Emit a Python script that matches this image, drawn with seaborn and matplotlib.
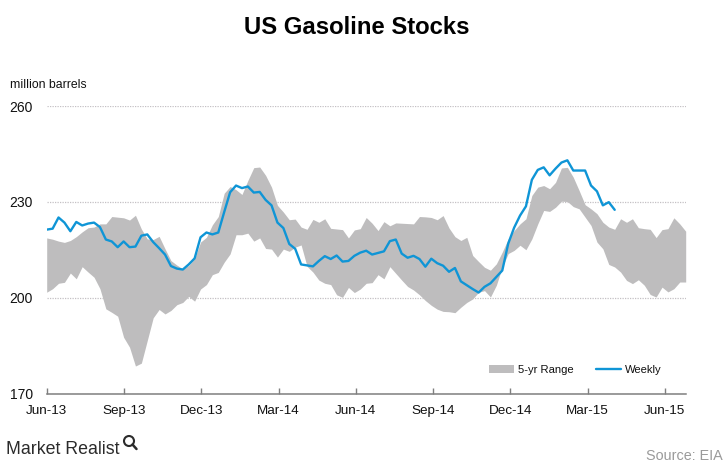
import matplotlib
matplotlib.use("Agg")
import matplotlib.pyplot as plt
from matplotlib.lines import Line2D
from matplotlib.patches import Patch, Circle
import numpy as np
import pandas as pd
import seaborn as sns

tick_labels = ["Jun-13", "Sep-13", "Dec-13", "Mar-14", "Jun-14", "Sep-14", "Dec-14", "Mar-15", "Jun-15"]
y_ticks = [170, 200, 230, 260]

weekly = [221.3, 221.6, 225.1, 223.5, 220.8, 223.7, 222.6, 223.2, 223.5, 222.1,
          218.2, 217.6, 215.8, 217.6, 215.8, 216.0, 219.4, 219.8, 217.4, 215.5,
          213.5, 209.9, 209.1, 208.8, 210.4, 212.3, 218.9, 220.4, 219.8, 220.4,
          226.8, 233.0, 235.1, 234.3, 234.8, 232.9, 233.1, 230.6, 228.9, 223.5,
          221.8, 216.8, 215.3, 210.4, 210.1, 209.8, 211.5, 213.0, 212.1, 213.2,
          211.3, 211.5, 213.1, 214.1, 214.7, 213.5, 214.0, 214.5, 217.7, 218.2,
          213.8, 212.5, 213.1, 212.1, 209.7, 212.2, 210.8, 210.0, 208.1, 209.3,
          205.1, 203.9, 202.7, 201.6, 203.4, 204.5, 206.5, 208.5, 216.9, 221.9,
          225.7, 228.6, 236.9, 240.0, 240.8, 238.3, 240.4, 242.3, 243.0, 239.8,
          239.8, 239.8, 235.1, 233.3, 228.9, 229.9, 227.5]

range_high = [218.7, 218.3, 217.7, 217.3, 217.9, 219.1, 220.6, 221.9, 222.1, 223.1,
              223.1, 225.4, 225.2, 225.0, 224.3, 225.8, 221.5, 218.4, 218.2, 219.2,
              215.3, 211.6, 210.2, 209.0, 210.1, 212.2, 217.4, 218.9, 222.8, 225.4,
              232.7, 234.8, 233.8, 232.3, 236.7, 240.7, 240.9, 238.3, 234.6, 228.9,
              226.8, 224.4, 224.6, 222.1, 221.4, 224.5, 223.6, 224.7, 221.7, 221.5,
              221.3, 218.7, 221.2, 221.6, 225.1, 223.3, 221.0, 223.8, 222.5, 223.4,
              223.3, 223.2, 223.1, 225.4, 225.3, 225.1, 224.4, 225.7, 221.8, 219.1,
              217.9, 218.9, 213.2, 211.3, 209.5, 208.6, 210.6, 214.3, 218.4, 221.0,
              223.1, 224.7, 232.0, 234.6, 235.1, 234.1, 236.1, 240.6, 240.8, 237.7,
              233.5, 229.1, 227.8, 226.3, 223.6, 222.1, 221.4, 224.7, 223.6, 224.7,
              221.9, 221.6, 221.4, 218.8, 221.3, 221.6, 225.0, 223.1, 220.8]

range_low = [201.7, 202.8, 204.5, 204.8, 207.7, 205.9, 209.7, 208.0, 206.4, 202.8,
             196.5, 195.4, 194.2, 187.6, 184.5, 178.6, 179.5, 186.6, 193.7, 196.3,
             194.9, 196.0, 197.8, 198.5, 200.4, 198.9, 202.7, 204.1, 207.2, 207.9,
             211.1, 213.7, 219.7, 219.7, 220.2, 217.7, 218.7, 215.4, 215.2, 212.7,
             215.2, 214.5, 215.8, 216.5, 209.8, 208.0, 205.5, 204.5, 204.1, 200.9,
             200.1, 203.2, 201.6, 202.7, 204.5, 204.7, 207.2, 205.9, 209.7, 207.6,
             205.5, 203.5, 202.4, 200.9, 199.1, 197.6, 196.4, 195.7, 195.6, 195.3,
             197.0, 198.5, 199.6, 201.7, 202.2, 200.2, 203.9, 209.6, 213.8, 214.8,
             216.4, 215.0, 218.4, 223.1, 227.3, 227.0, 228.3, 230.2, 230.1, 228.5,
             227.8, 225.2, 222.6, 217.4, 215.3, 210.4, 209.6, 208.0, 205.4, 204.4,
             205.6, 203.9, 201.0, 200.2, 203.3, 201.8, 202.8, 204.9, 204.9]

GREY = "#BEBDBE"
BLUE = "#0F95D6"
TEXT = "#111111"

sns.set_theme(style="white")
plt.rcParams["font.family"] = ["Liberation Sans", "DejaVu Sans"]

W, H = 728, 472
fig = plt.figure(figsize=(W / 100, H / 100), dpi=100, facecolor="white")
ax = fig.add_axes([46.7 / W, 1 - 393.5 / H, 639 / W, 287.5 / H])

band = pd.DataFrame({"week": np.arange(len(range_high)), "high": range_high, "low": range_low})
line = pd.DataFrame({"week": np.arange(len(weekly)), "stocks": weekly})

ax.fill_between(band["week"], band["low"], band["high"], color=GREY, linewidth=0, zorder=2)
sns.lineplot(data=line, x="week", y="stocks", color=BLUE, linewidth=1.7, ax=ax, zorder=3, legend=False)

ax.set_xlim(0, 108)
ax.set_ylim(170, 260)
ax.set_xlabel("")
ax.set_ylabel("")
ax.set_yticks(y_ticks)
ax.set_xticks(np.arange(len(tick_labels)) * 13.06)
ax.set_xticklabels(tick_labels)
ax.grid(axis="y", color="#C4C0C4", linewidth=0.9, linestyle=(0, (1, 1)), zorder=1)
ax.grid(axis="x", visible=False)
ax.set_axisbelow(True)
for s in ("top", "left", "right"):
    ax.spines[s].set_visible(False)
ax.spines["bottom"].set_color("#7F7F7F")
ax.spines["bottom"].set_linewidth(1.1)
ax.tick_params(axis="x", direction="in", length=4, width=1, color="#7F7F7F",
               labelsize=9.7, labelcolor=TEXT, pad=8, bottom=True)
ax.tick_params(axis="y", length=0, labelsize=10, labelcolor=TEXT, pad=10)

fig.text(357 / W, 1 - 27.5 / H, "US Gasoline Stocks", ha="center", va="center",
         fontsize=17.2, fontweight="bold", color="#000000")
fig.text(10 / W, 1 - 85.5 / H, "million barrels", ha="left", va="center", fontsize=8.8, color=TEXT)

handles = [Patch(facecolor=GREY, edgecolor="none", label="5-yr Range"),
           Line2D([0], [0], color=BLUE, linewidth=1.7, label="Weekly")]
ax.legend(handles=handles, loc="lower right", bbox_to_anchor=(662 / W, 1 - 375 / H),
          bbox_transform=fig.transFigure, ncol=2, frameon=False, fontsize=8.1,
          handlelength=2.2, handletextpad=0.4, columnspacing=2.0,
          borderpad=0, borderaxespad=0, labelcolor=TEXT)

fig.text(6 / W, 1 - 449 / H, "Market Realist", ha="left", va="center",
         fontsize=12.8, color="#2B2B2B")
fig.text(723 / W, 1 - 455.5 / H, "Source: EIA", ha="right", va="center", fontsize=10.4, color="#9A9A9A")

overlay = fig.add_axes([0, 0, 1, 1], facecolor="none")
overlay.set_xlim(0, W)
overlay.set_ylim(H, 0)
overlay.axis("off")
overlay.add_patch(Circle((129, 441), 5, fill=False, edgecolor="#2B2B2B", linewidth=1.5))
overlay.plot([132.5, 136.5], [444.5, 449], color="#2B2B2B", linewidth=1.8)

fig.savefig("out.png", dpi=100, facecolor="white")
